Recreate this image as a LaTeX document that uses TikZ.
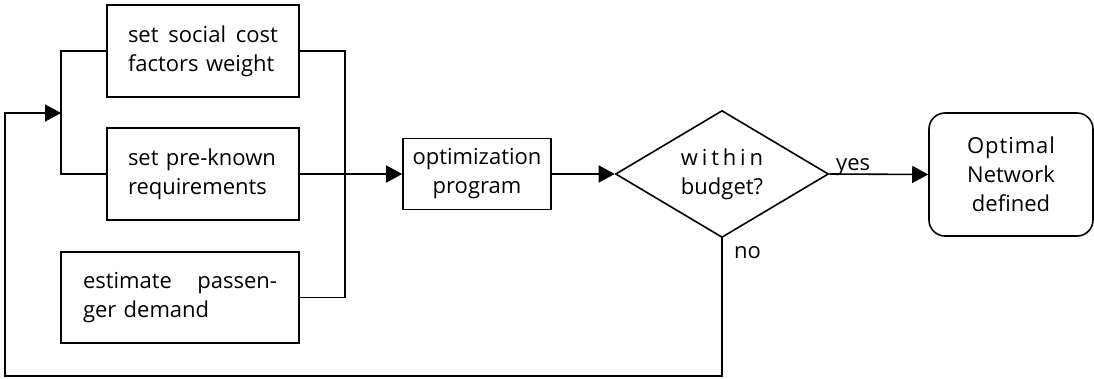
\documentclass[tikz,border=0pt]{standalone}
\usepackage{fontspec}
\setmainfont{Open Sans}
\usepackage{calc}
\usetikzlibrary{arrows.meta,shapes.geometric}
\begin{document}
\begin{tikzpicture}[x=1pt,y=-1pt,
  font=\fontsize{22}{29}\selectfont,
  box/.style={draw, rectangle, inner sep=0pt, line width=1.6pt},
  conn/.style={line width=1.6pt},
  arr/.style={conn, -{Triangle[length=16pt,width=17pt]}},
  lbl/.style={inner sep=0pt}
]
\useasboundingbox (0,0) rectangle (1094,378);

\node[box, minimum width=192pt, minimum height=92pt, text width=150pt, align=left] (b1) at (203,51)
  {\makebox[150pt][s]{set\hfill social\hfill cost}\\\mbox{factors weight}};
\node[box, minimum width=192pt, minimum height=92pt, text width=150pt, align=left] (b2) at (203,174)
  {\mbox{set pre-known}\\\mbox{requirements}};
\node[box, minimum width=238pt, minimum height=91pt, text width=194pt, align=left] (b3) at (180,297.5)
  {\makebox[194pt][s]{estimate\hfill passen-}\\\mbox{ger demand}};
\node[box, minimum width=148pt, minimum height=71pt, align=center] (opt) at (477,174)
  {optimization\\program};
\node[draw, diamond, line width=1.6pt, inner sep=0pt, aspect=1.68, minimum width=213pt, minimum height=127pt, align=center] (dia) at (722,174)
  {\makebox[\widthof{budget?}][s]{w\hfill i\hfill t\hfill h\hfill i\hfill n}\\budget?};
\node[box, rounded corners=16pt, minimum width=164pt, minimum height=123pt, align=center] (end) at (1011,174.5)
  {\makebox[\widthof{Network}][s]{O\hfill p\hfill t\hfill i\hfill m\hfill a\hfill l}\\Network\\defined};

\coordinate (bus) at (61,113);
\coordinate (rbus) at (345,174);
\coordinate (loopL) at (5,376);

\draw[conn] (b1.west) -| (bus) |- (b2.west);
\draw[arr] (dia.south) |- (loopL) |- (bus);
\draw[conn] (b1.east) -| (rbus);
\draw[conn] (b3.east) -| (rbus);
\draw[arr] (b2.east) -- (opt.west);
\draw[arr] (opt.east) -- (dia.west);
\draw[arr] (dia.east) -- (end.west);

\node[lbl, anchor=base west] (yes) at (836,170) {yes};
\node[lbl, anchor=base west] (no) at (734,258) {no};
\end{tikzpicture}
\end{document}
